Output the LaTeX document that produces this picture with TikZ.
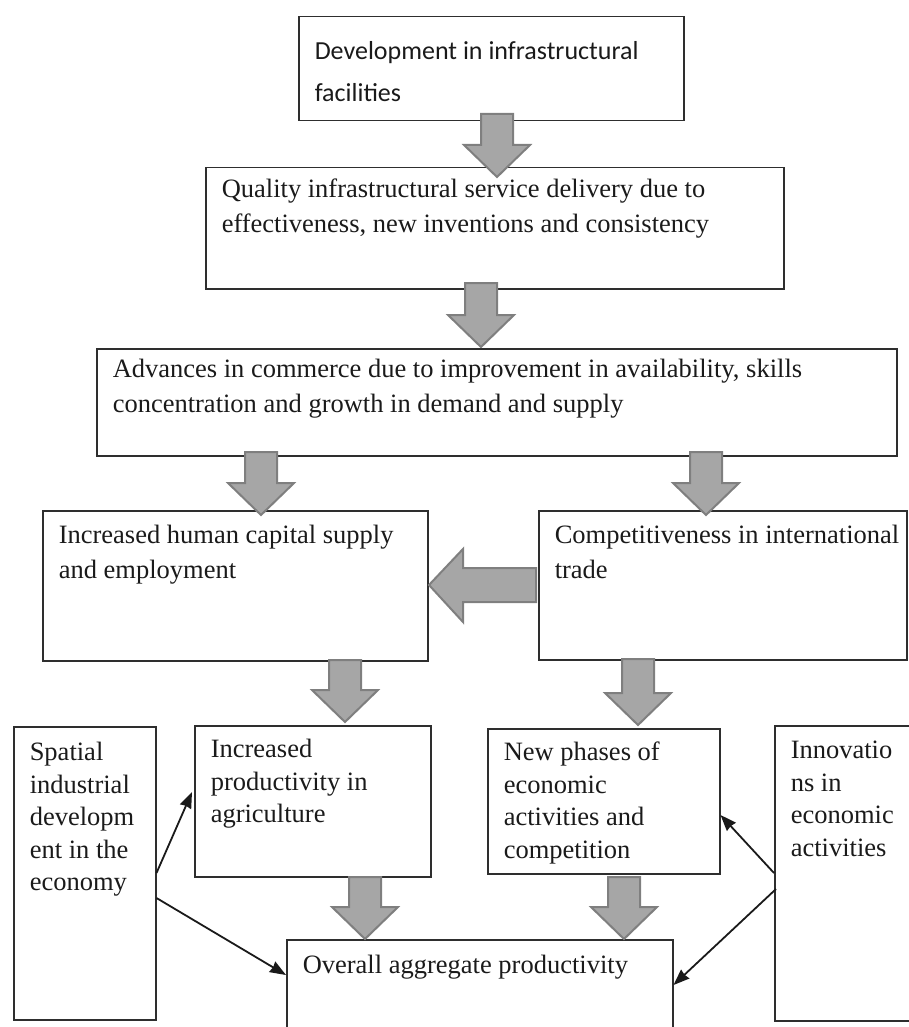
\documentclass[tikz,border=0pt]{standalone}
\usepackage{fontspec}
\setmainfont{Liberation Serif}
\newfontfamily\calibri{Carlito}
\usetikzlibrary{arrows.meta,calc}
\definecolor{fatfill}{HTML}{A6A6A6}
\definecolor{fatedge}{HTML}{7F7F7F}
\definecolor{boxedge}{HTML}{2E2E2E}
\definecolor{inkgray}{HTML}{1A1A1A}
\newcommand\cellbox[4]{\parbox[t][#2pt][t]{#1pt}{\raggedright\leftskip=16pt\rule{0pt}{#3pt}#4}}
\newcommand\fatdown[3]{\draw[fat] (#1-16,#2) -- (#1+16,#2) -- (#1+16,#3-32) -- (#1+33,#3-32) -- (#1,#3) -- (#1-33,#3-32) -- (#1-16,#3-32) -- cycle;}
\begin{document}
\begin{tikzpicture}[x=1pt,y=-1pt,
  box/.style={draw=boxedge,line width=1.5pt,anchor=north west,inner sep=0pt,text=inkgray},
  upper/.style={font={\fontsize{26.5}{34.5}\selectfont}},
  lower/.style={font={\fontsize{26.5}{32.5}\selectfont}},
  fat/.style={fill=fatfill,draw=fatedge,line width=2pt,line join=miter},
  link/.style={-{Stealth[length=16pt,width=12pt,inset=1pt]},line width=1.8pt,draw=inkgray}]
  \useasboundingbox (0,0) rectangle (909,1027);
  \clip (0,0) rectangle (909,1027);
  \node[box,font={\calibri\fontsize{26}{41.5}\selectfont}] (dev) at (298,16) {\cellbox{385}{104}{43}{Development in infrastructural\\facilities}};
  \node[box,upper] (quality) at (205,167) {\cellbox{578}{121}{30}{Quality infrastructural service delivery due to\\effectiveness, new inventions and consistency}};
  \node[box,upper] (commerce) at (96,348) {\cellbox{800}{107}{29}{Advances in commerce due to improvement in availability, skills\\concentration and growth in demand and supply}};
  \node[box,upper] (human) at (42,510) {\cellbox{385}{150}{33}{Increased human capital supply\\and employment}};
  \node[box,upper] (trade) at (538,510) {\cellbox{368}{149}{33}{Competitiveness in international\\trade}};
  \node[box,lower] (spatial) at (13,726) {\cellbox{142}{293}{34}{Spatial\\industrial\\developm\\ent in the\\economy}};
  \node[box,lower] (agri) at (194,725) {\cellbox{236}{151}{32}{Increased\\productivity in\\agriculture}};
  \node[box,lower] (phases) at (487,728) {\cellbox{232}{145}{32}{New phases of\\economic\\activities and\\competition}};
  \node[box,lower] (innov) at (774,725) {\cellbox{160}{295}{33}{Innovatio\\ns in\\economic\\activities}};
  \node[box,lower] (overall) at (286,939) {\cellbox{386}{120}{34}{Overall aggregate productivity}};
  \fatdown{497}{114}{177}
  \fatdown{481}{283}{347}
  \fatdown{261}{452}{515}
  \fatdown{706}{452}{515}
  \fatdown{345}{660}{722}
  \fatdown{638}{659}{725}
  \fatdown{365}{877}{939}
  \fatdown{624}{877}{939}
  \draw[fat] (536,568) -- (536,602) -- (463,602) -- (463,622) -- (429,585) -- (463,549) -- (463,568) -- cycle;
  \draw[link] ($(spatial.north east)+(0,147)$) -- ($(agri.north west)+(-2,67)$);
  \draw[link] ($(spatial.north east)+(0,172)$) -- ($(overall.north west)+(0,36)$);
  \draw[link] ($(innov.north west)+(0,148)$) -- ($(phases.north east)+(0,87)$);
  \draw[link] ($(innov.north west)+(2,164)$) -- ($(overall.north east)+(0,46)$);
\end{tikzpicture}
\end{document}
